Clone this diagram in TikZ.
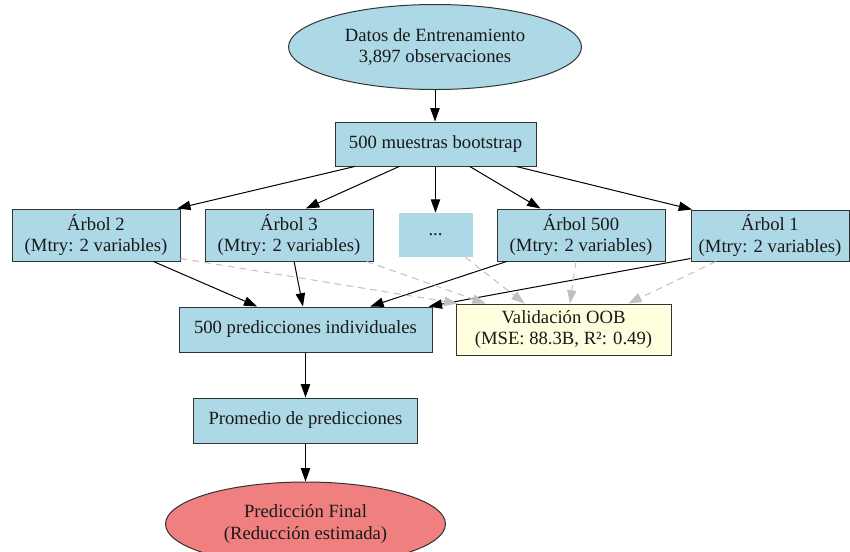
\documentclass[tikz,border=0pt]{standalone}
\usepackage{fontspec}
\setmainfont{Liberation Serif}
\usetikzlibrary{arrows.meta,calc,shapes.geometric}
\definecolor{lblue}{HTML}{ADD8E6}
\definecolor{lyellow}{HTML}{FFFFE0}
\definecolor{lcoral}{HTML}{F08080}
\definecolor{dashgray}{HTML}{C0C0C0}
\begin{document}
\begin{tikzpicture}[x=0.75pt,y=-0.75pt,
  every node/.style={font=\fontsize{14}{16}\selectfont, align=center, inner sep=0pt, text=black!90},
  box/.style={draw=black!80, line width=0.75pt, fill=lblue, rectangle},
  ell/.style={draw=black!80, line width=0.75pt, ellipse},
  edge/.style={draw=black, line width=0.75pt, -{Triangle[length=10pt,width=7pt]}},
  oobedge/.style={draw=dashgray, line width=0.75pt, dash pattern=on 5pt off 4pt, -{Triangle[length=10pt,width=7pt]}},
]
\path[use as bounding box, clip] (0,0) rectangle (850,551);
\fill[white] (0,0) rectangle (850,551);

\node[ell, fill=lblue, minimum width=219.75pt, minimum height=63.75pt] (data) at (435,47) {Datos de Entrenamiento\\3,897 observaciones};
\node[box, minimum width=150.75pt, minimum height=33pt] (boot) at (435.5,144) {500 muestras bootstrap};
\node[box, minimum width=126pt, minimum height=39pt] (t2) at (96,235) {Árbol 2\\(Mtry: 2 variables)};
\node[box, minimum width=126pt, minimum height=39pt] (t3) at (289,235) {Árbol 3\\(Mtry: 2 variables)};
\node[fill=lblue, minimum width=55.5pt, minimum height=33pt] (dots) at (435.5,235) {...};
\node[box, minimum width=126pt, minimum height=39pt] (t500) at (581,235) {Árbol 500\\(Mtry: 2 variables)};
\node[box, minimum width=118.5pt, minimum height=38.25pt] (t1) at (770,235.5) {Árbol 1\\(Mtry: 2 variables)};
\node[box, minimum width=189.75pt, minimum height=33.75pt] (pred) at (305.5,329.5) {500 predicciones individuales};
\node[box, fill=lyellow, minimum width=161.25pt, minimum height=38.25pt] (oob) at (563.5,329.5) {Validación OOB\\(MSE: 88.3B, R²: 0.49)};
\node[box, minimum width=168pt, minimum height=33.75pt] (avg) at (305.5,420.5) {Promedio de predicciones};
\node[ell, fill=lcoral, minimum width=210pt, minimum height=63pt] (final) at (305.5,524) {Predicción Final\\(Reducción estimada)};

% main flow
\draw[edge] (data.south) -- (data.south |- boot.north);
\draw[edge] ($(boot.south west)!0.10!(boot.south east)$) -- ($(t2.north west)!0.98!(t2.north east)$);
\draw[edge] ($(boot.south west)!0.32!(boot.south east)$) -- ($(t3.north west)!0.60!(t3.north east)$);
\draw[edge] (boot.south) -- (dots.north);
\draw[edge] ($(boot.south west)!0.67!(boot.south east)$) -- ($(t500.north west)!0.26!(t500.north east)$);
\draw[edge] ($(boot.south west)!0.90!(boot.south east)$) -- ($(t1.north west)!0.01!(t1.north east)$);

% trees to predictions
\draw[edge] ($(t2.south west)!0.84!(t2.south east)$) -- ($(pred.north west)!0.31!(pred.north east)$);
\draw[edge] ($(t3.south west)!0.53!(t3.south east)$) -- ($(pred.north west)!0.49!(pred.north east)$);
\draw[edge] ($(t500.south west)!0.06!(t500.south east)$) -- ($(pred.north west)!0.755!(pred.north east)$);
\draw[edge] ($(t1.south west)+(0,-3)$) -- ($(pred.north west)!0.985!(pred.north east)$);

% OOB validation
\draw[oobedge] ($(t2.south east)+(0,-3)$) -- ($(oob.north west)!0.01!(oob.north east)$);
\draw[oobedge] ($(t3.south west)!0.96!(t3.south east)$) -- ($(oob.north west)!0.14!(oob.north east)$);
\draw[oobedge] ($(dots.south west)!0.9!(dots.south east)$) -- ($(oob.north west)!0.32!(oob.north east)$);
\draw[oobedge] ($(t500.south west)!0.47!(t500.south east)$) -- ($(oob.north west)!0.53!(oob.north east)$);
\draw[oobedge] ($(t1.south west)!0.16!(t1.south east)$) -- ($(oob.north west)!0.80!(oob.north east)$);

% aggregation
\draw[edge] (pred.south) -- (avg.north);
\draw[edge] (avg.south) -- (final.north);
\end{tikzpicture}
\end{document}
